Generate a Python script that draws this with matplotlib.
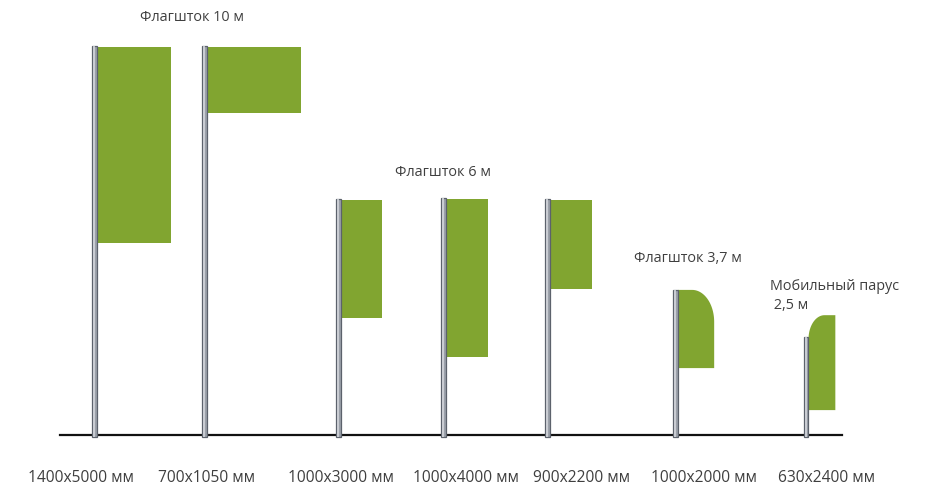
import numpy as np
import matplotlib
matplotlib.use("Agg")
import matplotlib.pyplot as plt
from matplotlib.patches import Rectangle, Polygon

# sizes in metres (1 m ~ 38.9 px)
sizes = ["1400x5000 мм", "700x1050 мм", "1000x3000 мм", "1000x4000 мм",
         "900x2200 мм", "1000x2000 мм", "630x2400 мм"]
pole_h = [10.0, 10.0, 6.07, 6.09, 6.07, 3.73, 2.52]
flag_top = [9.97, 9.97, 6.04, 6.07, 6.04, 3.73, 3.08]
flag_bottom = [4.94, 8.28, 3.01, 2.00, 3.75, 1.72, 0.64]
flag_w = [1.90, 2.42, 1.05, 1.08, 1.08, 0.93, 0.69]   # drawn width, not to scale
shapes = ["rect", "rect", "rect", "rect", "rect", "round_r", "round_l"]

groups = ["Флагшток 10 м", "Флагшток 6 м", "Флагшток 3,7 м", "Мобильный парус\n 2,5 м"]

# layout (pixels of the 927x486 picture)
S = 38.9
GROUND = 435
pole_x_px = [94.5, 204, 338.5, 443.5, 547, 675.5, 806]
size_x_px = [28, 158, 288, 413, 533, 651, 778]
group_xy_px = [(140, 18), (395, 173), (634, 259), (770, 296)]

GREEN = "#81a530"
TEXT = "#3f3f3f"
FONT = ["Open Sans", "DejaVu Sans"]


def mx(px):
    return px / S


def my(py):
    return (GROUND - py) / S


fig = plt.figure(figsize=(9.27, 4.86), dpi=100)
ax = fig.add_axes([0, 0, 1, 1])
ax.set_xlim(0, 927 / S)
ax.set_ylim(my(486), my(0))
ax.axis("off")

pw = 5 / S  # pole width
for xp, h, ft, fb, fw, shp in zip(pole_x_px, pole_h, flag_top, flag_bottom, flag_w, shapes):
    x = mx(xp)
    x0 = x + pw / 2
    if shp == "rect":
        ax.add_patch(Rectangle((x0, fb), fw, ft - fb, facecolor=GREEN, edgecolor="none", zorder=2))
    else:
        rx, ry = (22 / S, 32 / S) if shp == "round_r" else (16 / S, 24 / S)
        t = np.linspace(0, np.pi / 2, 30)
        if shp == "round_r":
            cx, cy = x0 + fw - rx, ft - ry
            arc = np.column_stack([cx + rx * np.sin(t), cy + ry * np.cos(t)])
            pts = np.vstack([[x0, fb], [x0, ft], arc, [x0 + fw, fb]])
        else:
            cx, cy = x0 + rx, ft - ry
            arc = np.column_stack([cx - rx * np.cos(t), cy + ry * np.sin(t)])
            pts = np.vstack([[x0, fb], arc, [x0 + fw, ft], [x0 + fw, fb]])
        ax.add_patch(Polygon(pts, closed=True, facecolor=GREEN, edgecolor="none", zorder=2))
    # pole: dark rim with a light core
    ax.add_patch(Rectangle((x - pw / 2, my(437)), pw, h - my(437), facecolor="#9ca1aa",
                           edgecolor="#5c626c", lw=0.9, zorder=3))
    ax.plot([x - 0.4 / S, x - 0.4 / S], [my(437), h], color="#d4d7dc", lw=1.2, zorder=4,
            solid_capstyle="butt")

ax.plot([mx(60), mx(842)], [0, 0], color="#111111", lw=1.6, zorder=1)

for lbl, xp in zip(sizes, size_x_px):
    ax.text(mx(xp), my(478), lbl, ha="left", va="center", fontsize=11.2, color=TEXT, family=FONT)

for lbl, (xp, yp) in zip(groups, group_xy_px):
    ax.text(mx(xp), my(yp), lbl, ha="left", va="center", fontsize=10.4, color=TEXT,
            family=FONT, linespacing=1.4)

fig.savefig("out.png", dpi=100)
